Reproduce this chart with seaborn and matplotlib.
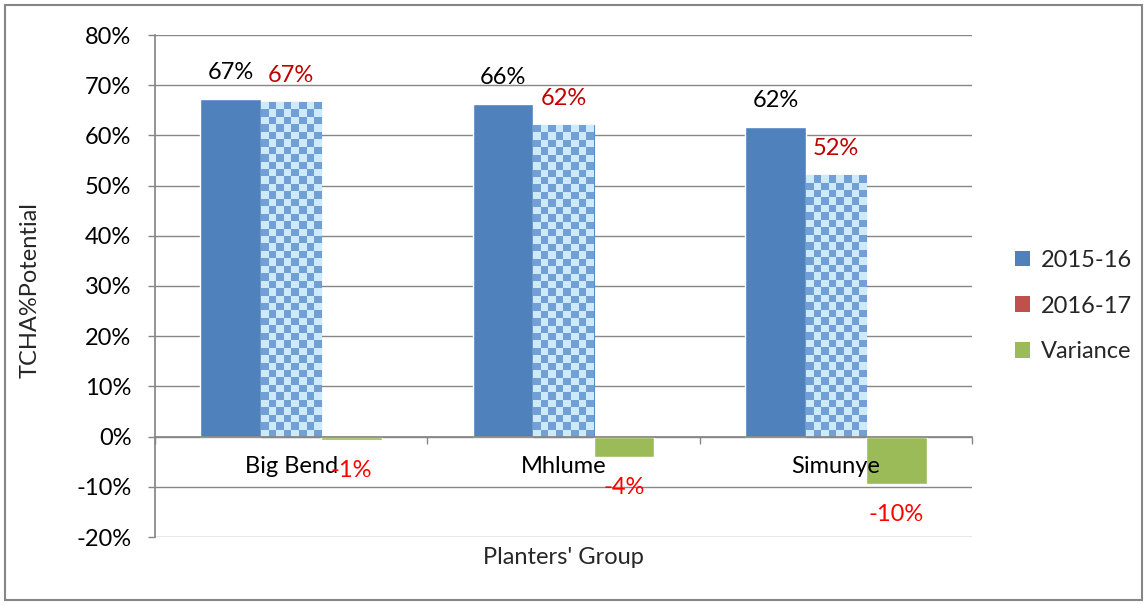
import numpy as np
import pandas as pd
import seaborn as sns
import matplotlib.pyplot as plt
from matplotlib.patches import Rectangle, Patch
from matplotlib.ticker import FixedLocator, PercentFormatter

# Planters' groups and their TCHA % of potential per season
groups = ["Big Bend", "Mhlume", "Simunye"]
seasons = ["2015-16", "2016-17", "Variance"]
tcha_2015 = [67.3, 66.2, 61.6]
tcha_2016 = [66.7, 62.1, 52.1]
variance = [-0.6, -4.1, -9.5]
label_2015 = ["67%", "66%", "62%"]
label_2016 = ["67%", "62%", "52%"]
label_var = ["-1%", "-4%", "-10%"]

colors = ["#4F81BD", "#C0504D", "#9BBB59"]
grid_col = "#868686"
FS = 17

sns.set_theme(style="white")
plt.rcParams["font.family"] = ["Lato", "DejaVu Sans"]
plt.rcParams["axes.unicode_minus"] = False

df = pd.DataFrame({
    "group": groups * 3,
    "season": [s for s in seasons for _ in groups],
    "value": tcha_2015 + tcha_2016 + variance,
})

fig = plt.figure(figsize=(11.47, 6.05), dpi=100)
ax = fig.add_axes([155 / 1147, 1 - 537 / 605, (972 - 155) / 1147, (537 - 35) / 605])

sns.barplot(data=df, x="group", y="value", hue="season", hue_order=seasons,
            order=groups, palette=colors, width=0.666, saturation=1,
            errorbar=None, legend=False, ax=ax, zorder=3)

ax.set_ylim(-20, 80)
ax.set_xlim(-0.5, 2.5)
ax.yaxis.set_major_locator(FixedLocator(np.arange(-20, 81, 10)))
ax.yaxis.set_major_formatter(PercentFormatter(decimals=0))
ax.grid(axis="y", color=grid_col, lw=1, zorder=0)
ax.set_axisbelow(True)

for s in ["top", "right"]:
    ax.spines[s].set_visible(False)
ax.spines["left"].set_color(grid_col)
ax.spines["bottom"].set_color(grid_col)
ax.spines["bottom"].set_position(("data", 0))
ax.spines["bottom"].set_zorder(4)

ax.tick_params(axis="y", direction="out", length=5, color=grid_col, width=1,
               labelsize=FS, labelcolor="black", pad=12, left=True)
ax.xaxis.set_minor_locator(FixedLocator([-0.5, 0.5, 1.5, 2.5]))
ax.tick_params(axis="x", which="major", length=0, labelsize=FS,
               labelcolor="black", pad=14)
ax.tick_params(axis="x", which="minor", direction="out", length=5,
               color=grid_col, width=1, bottom=True)
ax.xaxis.set_zorder(5)
ax.set_xlabel("")
ax.set_ylabel("")

# Bar containers in hue order
cont_2015, cont_2016, cont_var = ax.containers[:3]

# Checkered fill on the 2016-17 bars
tile = np.array([[0.80, 0.92, 0.98], [0.45, 0.63, 0.84]])
fig.canvas.draw()
for bar in cont_2016:
    bar.set_facecolor("none")
    bar.set_edgecolor("#5B8BC9")
    bar.set_linewidth(0.8)
    x0, y0 = bar.get_x(), bar.get_y()
    w, h = bar.get_width(), bar.get_height()
    p0 = ax.transData.transform((x0, y0))
    p1 = ax.transData.transform((x0 + w, y0 + h))
    nx = max(1, int(round(abs(p1[0] - p0[0]) / 7.5)))
    ny = max(1, int(round(abs(p1[1] - p0[1]) / 7.5)))
    yy, xx = np.mgrid[0:ny, 0:nx]
    checker = (xx + yy) % 2
    img = tile[checker]
    im = ax.imshow(img, extent=(x0, x0 + w, y0, y0 + h), origin="lower",
                   interpolation="nearest", aspect="auto", zorder=3)
    im.set_clip_path(bar)
ax.set_xlim(-0.5, 2.5)
ax.set_ylim(-20, 80)

# Value labels
for bar, txt in zip(cont_2015, label_2015):
    ax.annotate(txt, (bar.get_x() + bar.get_width() / 2, bar.get_height()),
                xytext=(0, 19), textcoords="offset points", ha="center",
                va="center", fontsize=FS, color="black")
for bar, txt in zip(cont_2016, label_2016):
    ax.annotate(txt, (bar.get_x() + bar.get_width() / 2, bar.get_height()),
                xytext=(0, 19), textcoords="offset points", ha="center",
                va="center", fontsize=FS, color="#C00000", zorder=5)
for bar, txt in zip(cont_var, label_var):
    ax.annotate(txt, (bar.get_x() + bar.get_width() / 2, bar.get_height()),
                xytext=(0, -22), textcoords="offset points", ha="center",
                va="center", fontsize=FS, color="#FF0000", zorder=6)

# Axis titles
fig.text(563 / 1147, 1 - 558 / 605, "Planters' Group", ha="center",
         va="center", fontsize=FS)
fig.text(30 / 1147, 1 - 290 / 605, "TCHA%Potential", ha="center",
         va="center", rotation=90, fontsize=FS)

# Legend
handles = [Patch(facecolor=c, edgecolor="none") for c in colors]
fig.legend(handles, seasons, loc="center left",
           bbox_to_anchor=(1015 / 1147, 1 - 306 / 605), frameon=False,
           fontsize=FS, handlelength=0.65, handleheight=0.65,
           handletextpad=0.45, labelspacing=1.05, borderpad=0,
           borderaxespad=0)

# Outer chart border
fig.patches.append(Rectangle((5 / 1147, 5 / 605), 1 - 10 / 1147, 1 - 10 / 605,
                             transform=fig.transFigure, fill=False,
                             edgecolor=grid_col, lw=1.5))

fig.savefig("out.png", dpi=100)
